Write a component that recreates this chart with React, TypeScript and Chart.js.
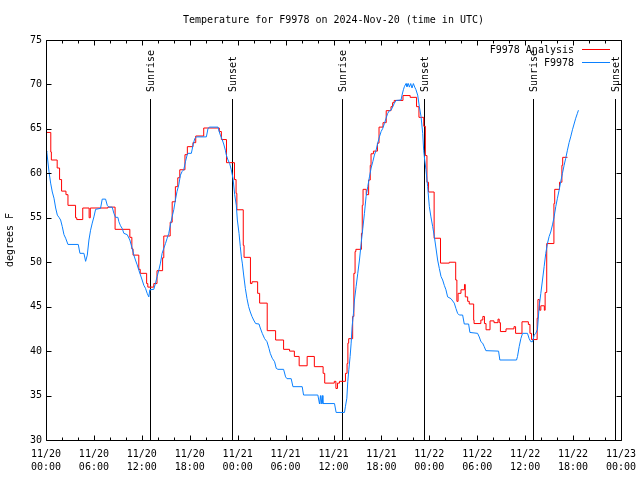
import React, { useEffect, useRef } from 'react';
import { Chart, registerables } from 'chart.js';

Chart.register(...registerables);

// ---- Data (hours since 2024-11-20 00:00 UTC, degrees F) ----
const analysisHours = [
  0.0, 0.6, 0.67, 1.4, 1.7, 1.95, 2.5, 2.75, 3.7, 3.85, 4.6, 5.4, 5.55, 7.75, 8.65,
  10.5, 10.75, 10.9, 11.62, 11.8, 12.6, 12.75, 13.5, 13.9, 14.6, 14.75, 15.55, 15.8,
  16.2, 16.5, 16.75, 17.4, 17.7, 18.4, 18.75, 19.75, 21.7, 21.96, 22.6, 23.6, 23.8,
  23.9, 24.7, 24.8, 25.6, 25.8, 26.5, 26.75, 27.7, 28.75, 29.75, 30.5, 31.1, 31.7,
  32.7, 33.6, 34.7, 34.9, 36.1, 36.3, 36.5, 36.75, 37.5, 37.7, 37.8, 37.9, 38.4,
  38.55, 38.7, 38.8, 39.5, 39.6, 39.7, 40.1, 40.4, 40.6, 40.7, 41.0, 41.5, 41.7,
  42.2, 42.6, 43.2, 43.4, 43.6, 44.7, 45.6, 46.4, 46.7, 47.3, 47.5, 47.7, 47.9,
  48.6, 49.4, 50.5, 51.3, 51.45, 51.6, 51.96, 52.4, 52.5, 52.8, 53.0, 53.55, 53.6,
  54.45, 54.7, 54.9, 55.1, 55.6, 56.1, 56.6, 56.75, 56.9, 57.6, 58.6, 58.8, 59.6,
  60.4, 60.6, 60.8, 61.5, 61.6, 61.8, 61.96, 62.4, 62.5, 62.7, 63.6, 63.7, 64.3,
  64.6, 64.7, 65.3,
];
const analysisTemps = [
  64.6, 62.4, 61.5, 60.6, 59.3, 58.0, 57.6, 56.4, 55.0, 54.8, 56.1, 55.0, 56.1, 56.2, 53.7,
  52.8, 51.5, 50.8, 49.2, 48.75, 47.6, 47.2, 47.6, 49.05, 50.5, 52.95, 54.5, 56.8,
  58.5, 59.5, 60.4, 62.1, 63.0, 63.45, 64.2, 65.1, 64.7, 63.8, 61.2, 59.3, 57.75,
  55.9, 51.9, 50.55, 47.6, 47.8, 46.5, 45.4, 42.3, 41.25, 40.2, 40.0, 39.4, 38.35,
  39.4, 38.25, 37.5, 36.4, 36.6, 35.8, 36.4, 36.6, 37.5, 38.6, 40.9, 41.4, 43.9,
  48.75, 51.2, 51.45, 53.25, 56.4, 58.2, 57.6, 59.25, 60.9, 62.2, 62.5, 63.4, 65.2,
  65.7, 67.05, 67.5, 67.95, 68.2, 68.75, 68.55, 67.5, 66.3, 65.3, 62.0, 59.0, 57.9,
  52.7, 49.9, 50.0, 48.0, 45.6, 46.5, 46.9, 47.5, 46.1, 45.6, 45.3, 43.5, 43.1,
  43.5, 43.9, 43.1, 42.4, 43.4, 43.2, 43.6, 43.2, 42.2, 42.5, 42.75, 42.0, 43.3,
  43.0, 42.0, 41.3, 43.7, 45.8, 44.6, 45.1, 44.6, 46.6, 52.1, 56.6, 58.2, 59.0,
  60.9, 61.8, 61.8,
];

const stationHours = [
  0.0, 0.1, 0.375, 0.58, 0.79, 1.0, 1.21, 1.42, 1.625, 1.83, 2.04, 2.25, 2.46, 2.75,
  4.04, 4.25, 4.75, 4.96, 5.17, 5.375, 5.58, 5.79, 6.0, 6.21, 6.83, 7.04, 7.46, 7.67,
  7.875, 8.29, 8.5, 8.71, 9.0, 9.125, 9.33, 9.54, 9.75, 10.17, 10.5, 10.67, 10.79,
  11.0, 11.2, 11.42, 11.625, 11.83, 12.04, 12.25, 12.46, 12.67, 12.875, 13.0, 13.5,
  13.7, 13.92, 14.125, 14.33, 14.54, 14.75, 14.96, 15.17, 15.375, 15.58, 15.79, 16.0,
  16.2, 16.4, 16.625, 16.83, 17.04, 17.25, 17.46, 17.67, 17.79, 18.2, 18.42, 18.625,
  18.83, 20.08, 20.29, 20.5, 21.54, 21.67, 21.83, 22.08, 22.25, 22.46, 22.58, 22.79,
  23.0, 23.2, 23.42, 23.625, 23.83, 23.96, 24.17, 24.33, 24.46, 24.58, 24.75, 24.96,
  25.17, 25.375, 25.58, 25.79, 26.0, 26.25, 26.67, 26.83, 27.08, 27.375, 27.67, 27.92,
  28.08, 28.33, 28.625, 28.83, 29.04, 29.75, 30.0, 30.17, 30.7, 30.92, 32.08, 32.25,
  34.04, 34.25, 34.37, 34.46, 34.58, 34.67, 36.125, 36.33, 37.375, 37.5, 37.67, 37.79,
  37.92, 38.08, 38.21, 38.33, 38.5, 38.625, 38.83, 39.04, 39.25, 39.46, 39.67, 39.875,
  40.08, 40.29, 40.5, 40.71, 40.92, 41.125, 41.33, 41.54, 41.75, 41.96, 42.17, 42.375,
  42.58, 42.79, 43.0, 43.2, 43.42, 43.625, 43.83, 44.46, 44.58, 44.75, 44.875, 45.08,
  45.2, 45.375, 45.5, 45.67, 45.83, 46.0, 46.17, 46.33, 46.54, 46.75, 46.96, 47.17,
  47.29, 47.42, 47.58, 47.79, 48.0, 48.2, 48.42, 48.625, 48.83, 49.04, 49.25, 49.46,
  49.67, 49.875, 50.08, 50.29, 50.71, 51.125, 51.33, 51.54, 51.75, 52.17, 52.375,
  52.92, 53.08, 54.04, 54.25, 54.46, 54.67, 54.875, 55.08, 56.67, 56.83, 58.92, 59.04,
  59.25, 59.46, 59.67, 60.29, 60.5, 60.71, 60.92, 61.125, 61.33, 61.54, 61.75, 61.96,
  62.17, 62.375, 62.58, 62.79, 63.0, 63.2, 63.42, 63.625, 63.83, 64.04, 64.25, 64.46,
  64.67, 64.875, 65.08, 65.29, 65.5, 65.7, 65.92, 66.125, 66.33, 66.54, 66.67,
];
const stationTemps = [
  62.5, 62.4, 60.2, 58.9, 57.9, 57.2, 56.1, 55.3, 55.05, 54.75, 54.0, 53.1, 52.7, 52.0,
  52.0, 51.0, 51.0, 50.1, 50.8, 52.5, 53.6, 54.4, 55.1, 55.95, 56.06, 57.1, 57.1, 56.4,
  56.2, 56.2, 55.5, 55.05, 55.05, 54.56, 54.1, 53.8, 53.25, 53.1, 52.5, 51.94, 51.56,
  50.8, 50.25, 49.7, 49.1, 48.56, 48.0, 47.4, 47.06, 46.5, 46.1, 46.9, 46.95,
  47.6, 48.4, 49.1, 49.9, 51.0, 51.56, 52.1, 52.7, 53.25, 54.2, 55.1, 55.9,
  57.0, 57.94, 58.7, 59.8, 60.2, 60.4, 61.3, 62.06, 62.25, 62.25, 63.2, 63.9,
  64.1, 64.1, 65.06, 65.2, 65.2, 64.75, 64.3, 63.75, 63.3, 62.6, 62.06, 61.5,
  61.1, 60.4, 59.4, 57.6, 56.4, 54.75, 53.25, 51.75, 50.6, 49.9, 48.56, 47.06,
  45.9, 45.0, 44.4, 43.9, 43.5, 43.1, 43.05, 42.6, 42.0, 41.4, 41.06, 40.3,
  39.75, 39.2, 38.8, 38.06, 37.95, 37.95, 37.1, 36.9, 36.9, 36.0, 36.0, 35.06,
  35.06, 34.05, 35.0, 34.05, 35.0, 34.1, 34.1, 33.1, 33.1, 33.8, 34.7, 36.6,
  37.9, 39.4, 40.9, 42.75, 44.25, 45.75, 47.25, 48.75, 50.25, 52.1, 53.8, 55.5,
  57.4, 58.5, 59.6, 60.6, 61.3, 62.06, 62.6, 63.4, 64.1, 64.7, 65.06, 65.6,
  66.2, 66.75, 67.05, 67.1, 67.5, 67.9, 68.2, 68.25, 68.8, 69.4, 69.75, 70.1,
  69.75, 70.1, 69.7, 70.1, 69.6, 70.1, 69.7, 69.4, 68.8, 67.5, 66.4, 64.5,
  62.6, 61.5, 60.4, 58.5, 56.25, 55.1, 54.0, 52.9, 51.6, 50.25, 49.3, 48.4,
  48.0, 47.4, 46.9, 46.1, 45.9, 45.4, 44.8, 44.25, 44.06, 44.06, 43.05,
  43.05, 42.1, 42.0, 41.6, 41.06, 40.9, 40.5, 40.05, 40.0, 39.0, 39.0, 39.4,
  40.5, 41.4, 42.0, 42.0, 41.4, 41.06, 41.06, 41.8, 42.0, 42.45, 45.0, 46.5,
  48.0, 49.5, 51.0, 52.1, 52.9, 53.4, 54.2, 55.1, 56.25, 57.2, 58.1, 59.1,
  60.0, 60.9, 61.7, 62.6, 63.45, 64.1, 64.9, 65.55, 66.2, 66.75, 67.1,
];

const xTickDates = ['11/20', '11/20', '11/20', '11/20', '11/21', '11/21', '11/21', '11/21', '11/22', '11/22', '11/22', '11/22', '11/23'];
const xTickTimes = ['00:00', '06:00', '12:00', '18:00', '00:00', '06:00', '12:00', '18:00', '00:00', '06:00', '12:00', '18:00', '00:00'];

const sunEventHours = [13.04, 23.3, 37.04, 47.3, 61.04, 71.3];
const sunEventLabels = ['Sunrise', 'Sunset', 'Sunrise', 'Sunset', 'Sunrise', 'Sunset'];
const sunLineTopTemp = 68.4;

const seriesNames = ['F9978 Analysis', 'F9978'];
const seriesColors = ['#ff0000', '#0a80ff'];
const chartTitle = 'Temperature for F9978 on 2024-Nov-20 (time in UTC)';
const yAxisTitle = 'degrees F';

const FONT_FAMILY = "'DejaVu Sans Mono', 'Liberation Mono', monospace";
const FONT = `10px ${FONT_FAMILY}`;

const gnuplotDecor = {
  id: 'gnuplotDecor',
  beforeDatasetsDraw(chart: any) {
    const { ctx, chartArea: a, scales } = chart;
    const x = scales.x;
    const y = scales.y;
    ctx.save();
    ctx.strokeStyle = '#000';
    ctx.fillStyle = '#000';
    ctx.lineWidth = 1;
    ctx.font = FONT;
    const topPx = Math.round(y.getPixelForValue(sunLineTopTemp));
    sunEventHours.forEach((h, i) => {
      const px = Math.round(x.getPixelForValue(h)) + 0.5;
      ctx.beginPath();
      ctx.moveTo(px, topPx);
      ctx.lineTo(px, a.bottom);
      ctx.stroke();
      ctx.save();
      ctx.translate(px + 1, topPx - 7);
      ctx.rotate(-Math.PI / 2);
      ctx.textAlign = 'left';
      ctx.textBaseline = 'middle';
      ctx.fillText(sunEventLabels[i], 0, 0);
      ctx.restore();
    });
    ctx.restore();
  },
  afterDatasetsDraw(chart: any) {
    const { ctx, chartArea: a, scales } = chart;
    const x = scales.x;
    const y = scales.y;
    const L = Math.round(a.left) + 0.5;
    const R = Math.round(a.right) + 0.5;
    const T = Math.round(a.top) + 0.5;
    const B = Math.round(a.bottom) + 0.5;
    ctx.save();
    ctx.strokeStyle = '#000';
    ctx.fillStyle = '#000';
    ctx.lineWidth = 1;
    // frame
    ctx.beginPath();
    ctx.moveTo(L, T);
    ctx.lineTo(R, T);
    ctx.lineTo(R, B);
    ctx.lineTo(L, B);
    ctx.closePath();
    ctx.stroke();
    // y ticks (both sides)
    ctx.beginPath();
    for (let v = y.min; v <= y.max; v += 5) {
      const py = Math.round(y.getPixelForValue(v)) + 0.5;
      ctx.moveTo(L, py);
      ctx.lineTo(L + 5, py);
      ctx.moveTo(R, py);
      ctx.lineTo(R - 5, py);
    }
    // x ticks (both sides), major 6h, minor 2h
    for (let h = x.min; h <= x.max; h += 2) {
      const len = h % 6 === 0 ? 5 : 3;
      const px = Math.round(x.getPixelForValue(h)) + 0.5;
      ctx.moveTo(px, B);
      ctx.lineTo(px, B - len);
      ctx.moveTo(px, T);
      ctx.lineTo(px, T + len);
    }
    ctx.stroke();
    // title
    ctx.font = FONT;
    ctx.textAlign = 'center';
    ctx.textBaseline = 'middle';
    ctx.fillText(chartTitle, (a.left + a.right) / 2, 20);
    // legend
    ctx.textAlign = 'right';
    const rows = [50, 63];
    seriesNames.forEach((name, i) => {
      ctx.fillStyle = '#000';
      ctx.fillText(name, a.right - 47, rows[i]);
      ctx.strokeStyle = seriesColors[i];
      ctx.beginPath();
      ctx.moveTo(a.right - 39, rows[i] - 0.5);
      ctx.lineTo(a.right - 11, rows[i] - 0.5);
      ctx.stroke();
    });
    ctx.restore();
  },
};

export default function App() {
  const canvasRef = useRef<HTMLCanvasElement | null>(null);

  useEffect(() => {
    if (!canvasRef.current) return;
    Chart.defaults.font.family = FONT_FAMILY;
    Chart.defaults.font.size = 10;
    Chart.defaults.color = '#000';

    const chart = new Chart(canvasRef.current, {
      type: 'line',
      data: {
        datasets: [
          {
            label: seriesNames[0],
            data: analysisHours.map((h, i) => ({ x: h, y: analysisTemps[i] })),
            borderColor: seriesColors[0],
            borderWidth: 1,
            pointRadius: 0,
            stepped: 'before',
            order: 1,
          },
          {
            label: seriesNames[1],
            data: stationHours.map((h, i) => ({ x: h, y: stationTemps[i] })),
            borderColor: seriesColors[1],
            borderWidth: 1,
            pointRadius: 0,
            tension: 0,
            order: 0,
          },
        ],
      },
      options: {
        animation: false,
        responsive: false,
        maintainAspectRatio: false,
        devicePixelRatio: 1,
        layout: { padding: { top: 40, right: 19, left: 0, bottom: 0 } },
        plugins: {
          legend: { display: false },
          title: { display: false },
          tooltip: { enabled: false },
        },
        scales: {
          x: {
            type: 'linear',
            min: 0,
            max: 72,
            grid: { display: false, drawTicks: false },
            border: { display: false },
            ticks: {
              stepSize: 6,
              autoSkip: false,
              maxRotation: 0,
              minRotation: 0,
              padding: 8,
              font: { family: FONT_FAMILY, size: 10, lineHeight: 1.3 },
              color: '#000',
              callback: (value: any) => {
                const idx = Math.round(Number(value) / 6);
                return [xTickDates[idx], xTickTimes[idx]];
              },
            },
            afterFit: (scale: any) => {
              scale.height = 40;
              scale.paddingLeft = 0;
              scale.paddingRight = 0;
            },
          },
          y: {
            type: 'linear',
            min: 30,
            max: 75,
            grid: { display: false, drawTicks: false },
            border: { display: false },
            ticks: {
              stepSize: 5,
              padding: 4,
              font: { family: FONT_FAMILY, size: 10 },
              color: '#000',
            },
            title: {
              display: true,
              text: yAxisTitle,
              font: { family: FONT_FAMILY, size: 10, lineHeight: 1.2 },
              color: '#000',
              padding: { top: 4, bottom: 0 },
            },
            afterFit: (scale: any) => {
              scale.width = 46;
              scale.paddingTop = 0;
              scale.paddingBottom = 0;
            },
          },
        },
      },
      plugins: [gnuplotDecor],
    });

    return () => {
      chart.destroy();
    };
  }, []);

  return (
    <div style={{ position: 'fixed', left: 0, top: 0, width: 640, height: 480, background: '#fff' }}>
      <canvas ref={canvasRef} width={640} height={480} style={{ width: 640, height: 480, display: 'block' }} />
    </div>
  );
}
